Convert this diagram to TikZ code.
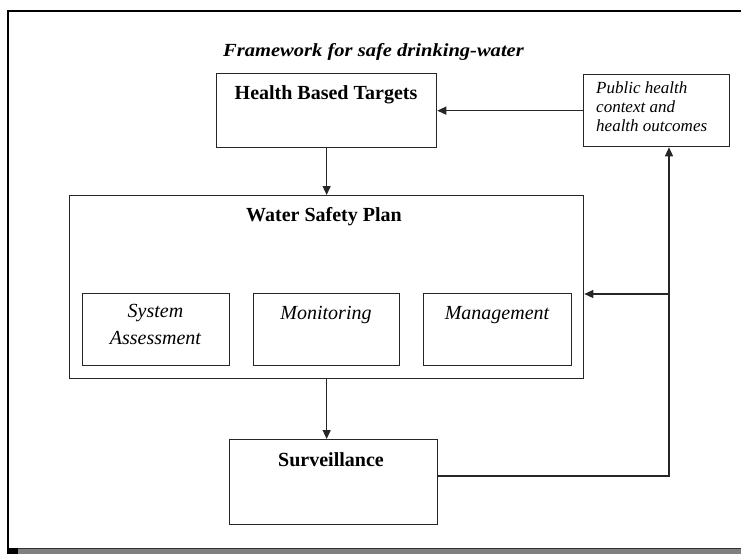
\documentclass[tikz,border=0pt]{standalone}
\usepackage{fontspec}
\setmainfont{Liberation Serif}
\usetikzlibrary{arrows.meta}
\begin{document}
\begin{tikzpicture}[x=1pt,y=-1pt,
  box/.style={draw=black!85, line width=1.3pt, inner sep=0pt, anchor=north west},
  conn/.style={draw=black!85, line width=1.3pt},
  arr/.style={conn, -{Triangle[length=9pt,width=8pt]}},
  boldtxt/.style={font=\fontsize{20}{24}\selectfont\bfseries, anchor=base, inner sep=0pt},
  ittxt/.style={font=\fontsize{20}{26.5}\selectfont\itshape, align=center, anchor=base, inner sep=0pt},
  pubtxt/.style={font=\fontsize{17}{19}\selectfont\itshape, align=left, anchor=base west, inner sep=0pt},
]
\useasboundingbox (0,0) rectangle (741,554);
% outer frame
\draw[line width=2pt, black] (8.3,548) -- (8.3,11.3) -- (741,11.3);
\fill[black!50] (8,549) rectangle (741,554);
\draw[black!80, line width=1.2pt] (8,548.6) -- (741,548.6);
\fill[black] (7.3,548) rectangle (18,554);

% boxes
\node[box, minimum width=220pt, minimum height=74pt] (hbt) at (216,73) {};
\node[box, minimum width=146pt, minimum height=72pt] (pub) at (583,74) {};
\node[box, minimum width=514pt, minimum height=183pt] (wsp) at (69,195) {};
\node[box, minimum width=147pt, minimum height=72pt] (sa) at (82,293) {};
\node[box, minimum width=146pt, minimum height=72pt] (mon) at (253,293) {};
\node[box, minimum width=148pt, minimum height=72pt] (man) at (423,293) {};
\node[box, minimum width=208pt, minimum height=85pt] (surv) at (229,439) {};

% texts
\node[boldtxt, font=\fontsize{18.5}{22}\selectfont\bfseries\itshape] (title) at (373.5,56) {\scalebox{1.11}[1]{Framework for safe drinking-water}};
\node[boldtxt] (thbt) at (326,99) {Health Based Targets};
\node[boldtxt] (twsp) at (324,221) {Water Safety Plan};
\node[boldtxt] (tsurv) at (331,466) {Surveillance};
\node[ittxt] (tsa) at (155.5,344) {System\\Assessment};
\node[ittxt] (tmon) at (326,319) {Monitoring};
\node[ittxt] (tman) at (497,319) {Management};
\node[pubtxt] (tpub) at (596,131) {Public health\\context and\\health outcomes};

% connectors
\coordinate (rt) at (669,476);
\coordinate (br) at (669,294);
\draw[arr] (pub.west) -- (hbt.east);
\draw[arr] (hbt.south) -- (wsp.north);
\draw[arr] (wsp.south) -- (wsp.south |- surv.north);
\draw[arr] (surv.east |- rt) -- (rt) -- (rt |- pub.south);
\draw[arr] (br) -- (br -| wsp.east);
\end{tikzpicture}
\end{document}
